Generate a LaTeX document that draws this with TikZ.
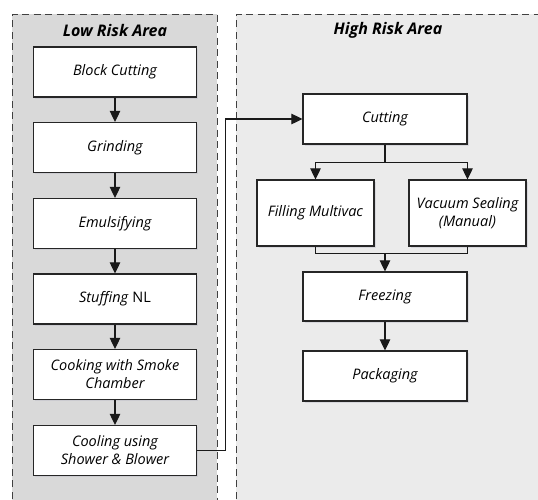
\documentclass[tikz,border=0pt]{standalone}
\usepackage{fontspec}
\setmainfont{Open Sans}
\usetikzlibrary{arrows.meta,shadows}

\tikzset{
  procbox/.style={draw=black!85, line width=1.2pt, fill=white, align=center,
    minimum width=163pt, minimum height=50pt, inner sep=2pt,
    font=\itshape\fontsize{14.5}{18}\selectfont,
    drop shadow={shadow xshift=1.5pt, shadow yshift=-1.5pt, fill=blue!20!black!30, opacity=.35}},
  areatitle/.style={font=\bfseries\itshape\fontsize{16}{18}\selectfont},
  area/.style={dash pattern=on 7pt off 4.5pt, line width=1pt, draw=black!75},
  link/.style={line width=1.1pt, draw=black!90},
  flow/.style={link, -{Triangle[length=11pt,width=10.5pt]}},
}

\begin{document}
\begin{tikzpicture}[x=1pt,y=-1pt]
			%%%%% AREAS %%%%%
			\useasboundingbox (0,0) rectangle (538,499);
			\clip (0,0) rectangle (538,499);
			
			\fill[black!15] (12,14) rectangle (217,510);
			\draw[area] (12,510) -- (12,14) -- (217,14) -- (217,510);
			\fill[black!8] (236,14) rectangle (545,510);
			\draw[area] (236,510) -- (236,14) -- (545,14);
			
			\node[areatitle] (lowtitle) at (115,30) {Low Risk Area};
			\node[areatitle] (hightitle) at (388,30) {High Risk Area};
			
			%%%%% LOW RISK %%%%%
			\node[procbox] (blockcut) at (115,72) {Block Cutting};
			\node[procbox] (grind) at (115,147.5) {Grinding};
			\node[procbox] (emulsify) at (115,223.5) {Emulsifying};
			\node[procbox] (stuff) at (115,299) {Stuffing \textup{NL}};
			\node[procbox] (cook) at (115,374.5) {Cooking with Smoke\\Chamber};
			\node[procbox] (cool) at (115,450.5) {Cooling using\\Shower \& Blower};
			
			\foreach \a/\b in {blockcut/grind, grind/emulsify, emulsify/stuff, stuff/cook, cook/cool}
				\draw[flow] (\a) -- (\b);
			
			%%%%% HIGH RISK %%%%%
			\node[procbox, minimum width=164pt] (cutting) at (385,119) {Cutting};
			\node[procbox, minimum width=117pt, minimum height=66pt] (filling) at (315.5,213) {Filling Multivac};
			\node[procbox, minimum width=117pt, minimum height=66pt] (vacuum) at (467.5,213) {Vacuum Sealing\\(Manual)};
			\node[procbox, minimum width=164pt, minimum height=49pt] (freezing) at (385,296.5) {Freezing};
			\node[procbox, minimum width=164pt] (packaging) at (385,376) {Packaging};
			
			\draw[flow] (cool.east) -- ++(28,0) |- (cutting.west);
			
			\draw[link] (cutting.south) -- ++(0,18) coordinate (split);
			\draw[flow] (split) -| (filling.north);
			\draw[flow] (split) -| (vacuum.north);
			
			\coordinate (merge) at ([yshift=18pt]freezing.north);
			\draw[link] (filling.south) |- (merge) -| (vacuum.south);
			\draw[flow] (merge) -- (freezing.north);
			\draw[flow] (freezing) -- (packaging);
			
			%%%%% END %%%%%
\end{tikzpicture}
\end{document}
